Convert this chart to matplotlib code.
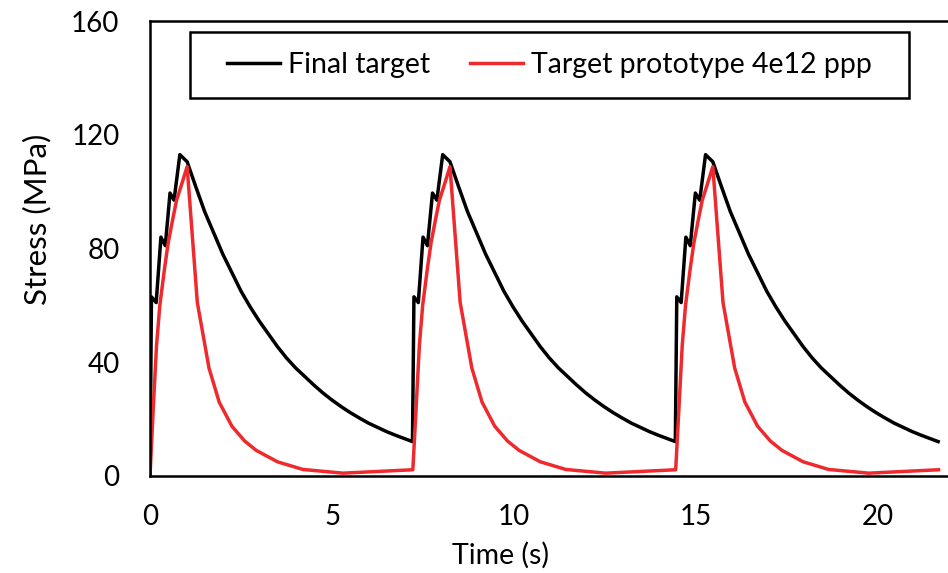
import matplotlib.pyplot as plt
from matplotlib.patches import Rectangle

plt.rcParams['font.family'] = ['Lato', 'DejaVu Sans']

# --- data (time in s, stress in MPa) ---
final_t = [0.00, 0.04, 0.17, 0.30, 0.42, 0.55, 0.66, 0.82, 1.02,
           1.25, 1.50, 1.75, 2.00, 2.25, 2.50, 2.75, 3.00, 3.25, 3.50, 3.75, 4.00, 4.25,
           4.50, 4.75, 5.00, 5.25, 5.50, 5.75, 6.00, 6.25, 6.50, 6.75, 7.00, 7.21,
           7.25, 7.37, 7.50, 7.62, 7.76, 7.88, 8.04, 8.24,
           8.47, 8.72, 8.97, 9.22, 9.47, 9.72, 9.97, 10.22, 10.47, 10.72, 10.97, 11.22, 11.47,
           11.72, 11.97, 12.22, 12.47, 12.72, 12.97, 13.22, 13.47, 13.72, 13.97, 14.22, 14.43,
           14.47, 14.59, 14.72, 14.84, 14.98, 15.10, 15.26, 15.46,
           15.69, 15.94, 16.19, 16.44, 16.69, 16.94, 17.19, 17.44, 17.69, 17.94, 18.19, 18.44, 18.69,
           18.94, 19.19, 19.44, 19.69, 19.94, 20.19, 20.44, 20.69, 20.94, 21.19, 21.44, 21.65]
final_s = [0, 63, 61, 84, 81, 99.5, 97, 113, 110.5,
           102, 93, 85.5, 78, 71.5, 65, 59.5, 54.5, 50, 45.5, 41.5, 38, 35,
           32, 29.2, 26.7, 24.4, 22.3, 20.4, 18.6, 17.1, 15.6, 14.3, 13.1, 12.1,
           63, 61, 84, 81, 99.5, 97, 113, 110.5,
           102, 93, 85.5, 78, 71.5, 65, 59.5, 54.5, 50, 45.5, 41.5, 38, 35,
           32, 29.2, 26.7, 24.4, 22.3, 20.4, 18.6, 17.1, 15.6, 14.3, 13.1, 12.1,
           63, 61, 84, 81, 99.5, 97, 113, 110.5,
           102, 93, 85.5, 78, 71.5, 65, 59.5, 54.5, 50, 45.5, 41.5, 38, 35,
           32, 29.2, 26.7, 24.4, 22.3, 20.4, 18.6, 17.1, 15.6, 14.3, 13.1, 12.1]

proto_t = [0.00, 0.09, 0.18, 0.27, 0.40, 0.50, 0.62, 0.73, 0.88, 1.02,
           1.30, 1.62, 1.90, 2.25, 2.60, 2.92, 3.50, 4.20, 5.30, 7.22,
           7.31, 7.40, 7.49, 7.62, 7.72, 7.84, 7.95, 8.10, 8.24,
           8.52, 8.84, 9.12, 9.47, 9.82, 10.14, 10.72, 11.42, 12.52, 14.44,
           14.53, 14.62, 14.71, 14.84, 14.94, 15.06, 15.17, 15.32, 15.46,
           15.74, 16.06, 16.34, 16.69, 17.04, 17.36, 17.94, 18.64, 19.74, 21.66]
proto_s = [0, 24, 46, 60, 73, 82, 90, 97, 103, 108.8,
           61, 38, 26, 17.5, 12.3, 9, 5, 2.3, 1.0, 2.2,
           24, 46, 60, 73, 82, 90, 97, 103, 108.8,
           61, 38, 26, 17.5, 12.3, 9, 5, 2.3, 1.0, 2.2,
           24, 46, 60, 73, 82, 90, 97, 103, 108.8,
           61, 38, 26, 17.5, 12.3, 9, 5, 2.3, 1.0, 2.2]

x_ticks = [0, 5, 10, 15, 20]
y_ticks = [0, 40, 80, 120, 160]

fig = plt.figure(figsize=(9.48, 5.73), dpi=100)
ax = fig.add_axes([150 / 948, 1 - 476 / 573, 1 - 150 / 948, 455 / 573])

ax.plot(final_t, final_s, color='black', lw=2.5, label='Final target')
ax.plot(proto_t, proto_s, color='#ee2a2e', lw=2.5, label='Target prototype 4e12 ppp')

ax.set_xlim(0, 21.92)
ax.set_ylim(0, 160)
ax.set_xticks(x_ticks)
ax.set_yticks(y_ticks)
ax.tick_params(length=0, labelsize=20)
ax.tick_params(axis='y', pad=22)
ax.tick_params(axis='x', pad=20)

for side in ['left', 'bottom', 'top']:
    ax.spines[side].set_linewidth(1.8)
ax.spines['right'].set_visible(False)

ax.set_xlabel('Time (s)', fontsize=20.5)
ax.set_ylabel('Stress (MPa)', fontsize=22.5)
ax.xaxis.set_label_coords(0.4386, -0.145)
ax.yaxis.set_label_coords(-0.124, 0.563)

# legend entries without frame, box drawn separately (it is wider than the entries)
ax.legend(loc='center', bbox_to_anchor=(0.5006, 0.903), ncol=2,
          fontsize=20.5, frameon=False, handlelength=1.85, handletextpad=0.3,
          columnspacing=1.4, borderpad=0)
ax.add_patch(Rectangle((0.0501, 0.831), 0.901, 0.145, transform=ax.transAxes,
                       fill=False, edgecolor='black', lw=1.8, zorder=5))

fig.savefig('out.png', dpi=100)
